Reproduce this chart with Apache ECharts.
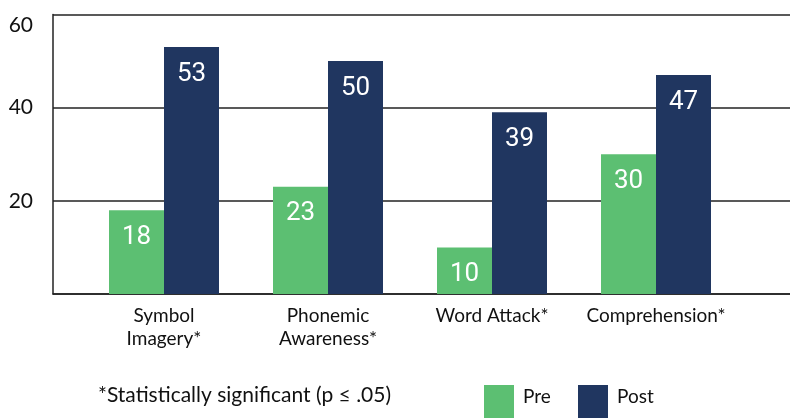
<!DOCTYPE html>
<html>
<head>
<meta charset="utf-8">
<script src="https://cdn.jsdelivr.net/npm/echarts@6/dist/echarts.min.js"></script>
<style>
  html, body { margin: 0; padding: 0; background: #fff; }
  #chart { width: 790px; height: 418px; }
</style>
</head>
<body>
<div id="chart"></div>
<script>
// chart data
const categories = ['Symbol\nImagery*', 'Phonemic\nAwareness*', 'Word Attack*', 'Comprehension*'];
const preValues = [18, 23, 10, 30];
const postValues = [53, 50, 39, 47];
const seriesNames = ['Pre', 'Post'];
const footnote = '*Statistically significant (p \u2264 .05)';

const GREEN = '#5cbf72';
const NAVY = '#203660';
const FONT = 'Lato, "Liberation Sans", sans-serif';
const NARROW = 'Roboto, "Liberation Sans", sans-serif';

const chart = echarts.init(document.getElementById('chart'));

function barLabel() {
  return {
    show: true,
    position: 'insideTop',
    distance: 14,
    color: '#fff',
    fontFamily: NARROW,
    fontSize: 26
  };
}

// one legend per series so each swatch sits where the reference has it
function legendAt(name, left) {
  return {
    data: [name],
    left: left,
    top: 385,
    padding: 0,
    icon: 'rect',
    itemWidth: 30,
    itemHeight: 36,
    // extra empty line lifts the text toward the top of the tall swatch
    formatter: n => n + '\n ',
    textStyle: { fontFamily: FONT, fontSize: 19, color: '#111', lineHeight: 13, padding: [0, 0, 0, 4] },
    selectedMode: false
  };
}

chart.setOption({
  animation: false,
  // grid 0 carries the frame and the gridlines, grid 1 the bars
  grid: [
    { left: 53, right: 0, top: 14.5, bottom: 124 },
    { left: 82, width: 656, top: 14.5, bottom: 124 }
  ],
  xAxis: [
    {
      gridIndex: 0, type: 'value', min: 0, max: 1,
      axisLine: { show: true, onZero: false, lineStyle: { color: '#222', width: 1.5 } },
      axisTick: { show: false }, axisLabel: { show: false }, splitLine: { show: false }
    },
    {
      gridIndex: 1, type: 'category', data: categories,
      axisLine: { show: false }, axisTick: { show: false },
      axisLabel: { interval: 0, margin: 10, fontFamily: FONT, fontSize: 19, color: '#111', lineHeight: 23 }
    }
  ],
  yAxis: [
    {
      gridIndex: 0, type: 'value', min: 0, max: 60, interval: 20,
      axisLine: { show: true, lineStyle: { color: '#222', width: 1.5 } },
      axisTick: { show: false },
      splitLine: { lineStyle: { color: '#222', width: 1.5 } },
      axisLabel: {
        showMinLabel: false, margin: 20, fontFamily: FONT, fontSize: 21, color: '#111',
        verticalAlignMaxLabel: 'top'
      }
    },
    {
      gridIndex: 1, type: 'value', min: 0, max: 60, show: false
    }
  ],
  legend: [legendAt(seriesNames[0], 484), legendAt(seriesNames[1], 578)],
  graphic: [{
    type: 'text', left: 98, top: 385,
    style: { text: footnote, fontFamily: FONT, fontSize: 21, fill: '#111' }
  }],
  series: [
    {
      name: seriesNames[0], type: 'bar', xAxisIndex: 1, yAxisIndex: 1,
      data: preValues, barWidth: 55, barGap: '0%',
      itemStyle: { color: GREEN }, label: barLabel()
    },
    {
      name: seriesNames[1], type: 'bar', xAxisIndex: 1, yAxisIndex: 1,
      data: postValues, barWidth: 55, barGap: '0%',
      itemStyle: { color: NAVY }, label: barLabel()
    }
  ]
});
</script>
</body>
</html>
